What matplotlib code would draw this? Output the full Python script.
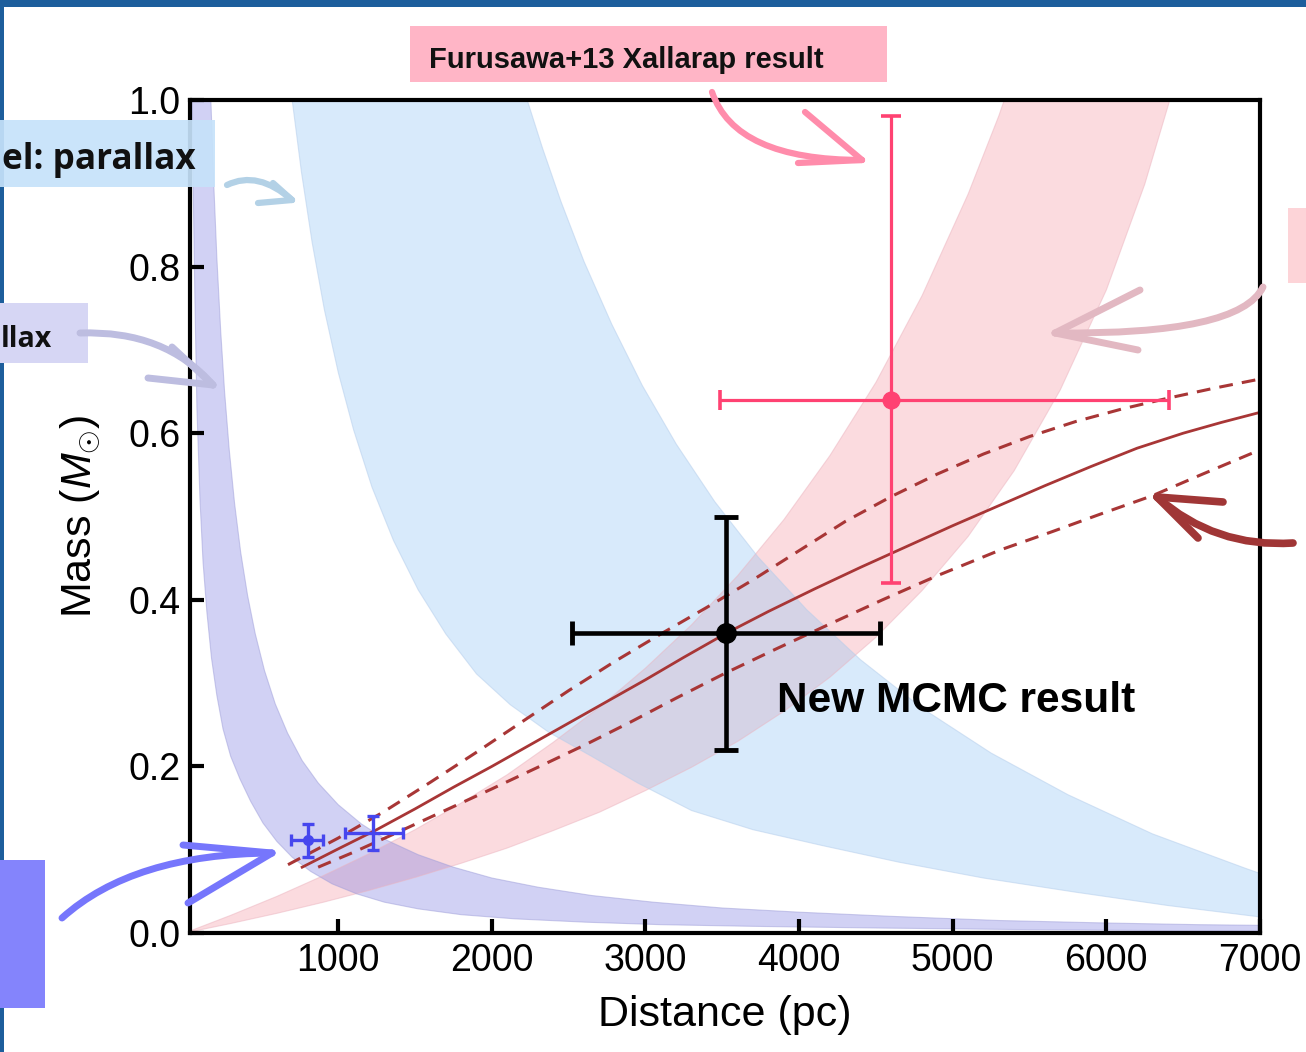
import numpy as np
import matplotlib
matplotlib.use("Agg")
import matplotlib.pyplot as plt
from matplotlib.path import Path
from matplotlib.patches import PathPatch, Rectangle

# ---------------- data (distance in pc, mass in Msun) ----------------
# lavender band (parallax, model 1)
lav_up_d = [165, 172, 190, 210, 235, 260, 290, 325, 365, 410, 460, 520, 590, 670, 765, 870, 1000, 1150,
            1320, 1520, 1750, 2000, 2300, 2650, 3050, 3500, 4000, 4600, 5300, 6000, 6600, 7100]
lav_up_m = [1.037, 0.994, 0.898, 0.810, 0.722, 0.650, 0.581, 0.516, 0.457, 0.405, 0.359, 0.315, 0.275, 0.240,
            0.207, 0.180, 0.154, 0.131, 0.111, 0.094, 0.079, 0.066, 0.055, 0.045, 0.037, 0.030, 0.025, 0.020,
            0.015, 0.012, 0.010, 0.009]
lav_lo_d = [45, 50, 57, 67, 80, 100, 120, 145, 175, 210, 250, 300, 360, 430, 510, 600, 700, 820, 960, 1120,
            1300, 1520, 1800, 2150, 2608, 3100, 3700, 4500, 5500, 7100]
lav_lo_m = [1.12, 1.00, 0.88, 0.76, 0.63, 0.52, 0.445, 0.385, 0.330, 0.285, 0.245, 0.212, 0.185, 0.158, 0.132,
            0.110, 0.091, 0.074, 0.059, 0.047, 0.037, 0.029, 0.022, 0.017, 0.013, 0.010, 0.008, 0.006, 0.004, 0.002]

# light-blue band (parallax, model 2)
blu_lo_d = [640, 700, 760, 830, 910, 1000, 1100, 1220, 1360, 1520, 1700, 1900, 2120, 2370, 2650, 2950, 3300,
            3700, 4150, 4650, 5200, 5800, 6400, 7100]
blu_lo_m = [1.103, 1.0, 0.914, 0.829, 0.748, 0.673, 0.604, 0.535, 0.471, 0.412, 0.359, 0.311, 0.274, 0.241,
            0.212, 0.180, 0.147, 0.124, 0.105, 0.085, 0.066, 0.049, 0.033, 0.017]
blu_up_d = [2150, 2230, 2330, 2450, 2600, 2780, 2980, 3200, 3450, 3730, 4050, 4400, 4800, 5250, 5750, 6300,
            6900, 7100]
blu_up_m = [1.051, 1.0, 0.942, 0.878, 0.806, 0.731, 0.657, 0.587, 0.518, 0.452, 0.388, 0.328, 0.270, 0.216,
            0.166, 0.119, 0.078, 0.065]

# pink band (theta_E)
pnk_up_d = [35, 300, 600, 900, 1200, 1500, 1800, 2100, 2400, 2700, 3000, 3300, 3600, 3900, 4200, 4500, 4800,
            5100, 5300, 5450]
pnk_up_m = [0.0024, 0.0212, 0.0439, 0.0686, 0.0952, 0.124, 0.156, 0.190, 0.229, 0.271, 0.318, 0.370, 0.429,
            0.496, 0.573, 0.661, 0.765, 0.887, 0.981, 1.061]
pnk_lo_d = [35, 300, 600, 900, 1200, 1500, 1800, 2100, 2400, 2700, 3000, 3300, 3600, 3900, 4200, 4500, 4800,
            5100, 5400, 5700, 6000, 6250, 6413, 6550]
pnk_lo_m = [0.0013, 0.0114, 0.0236, 0.0368, 0.0511, 0.0667, 0.0837, 0.102, 0.123, 0.145, 0.171, 0.199, 0.230,
            0.266, 0.307, 0.355, 0.411, 0.476, 0.555, 0.652, 0.772, 0.899, 1.0, 1.096]

# mass-distance relation (solid) and its 1-sigma range (dashed)
rel_d = [765, 1000, 1250, 1500, 1750, 2000, 2250, 2500, 2750, 3000, 3250, 3527, 3800, 4100, 4400, 4700, 5000,
         5300, 5600, 5900, 6200, 6500, 6750, 7000]
rel_m = [0.079, 0.101, 0.124, 0.149, 0.175, 0.200, 0.226, 0.252, 0.278, 0.304, 0.331, 0.360, 0.386, 0.413,
         0.439, 0.464, 0.489, 0.513, 0.537, 0.560, 0.582, 0.600, 0.613, 0.625]
relhi_d = [673, 1000, 1300, 1600, 1900, 2200, 2500, 2800, 3100, 3400, 3700, 4000, 4300, 4600, 4900, 5200, 5500,
           5800, 6100, 6400, 6700, 7000]
relhi_m = [0.082, 0.114, 0.146, 0.181, 0.217, 0.254, 0.291, 0.326, 0.359, 0.391, 0.424, 0.459, 0.494, 0.524,
           0.551, 0.575, 0.596, 0.614, 0.629, 0.642, 0.654, 0.665]
rello_d = [869, 1100, 1400, 1729, 2000, 2300, 2608, 2900, 3200, 3520, 3850, 4200, 4543, 4900, 5312, 5650, 5963,
           6300, 6615, 7000]
rello_m = [0.079, 0.097, 0.122, 0.150, 0.173, 0.199, 0.226, 0.253, 0.282, 0.312, 0.341, 0.371, 0.400, 0.429,
           0.460, 0.482, 0.503, 0.525, 0.550, 0.580]

# results
mcmc_d, mcmc_m = 3527, 0.360
mcmc_dx = [1003, 997]
mcmc_dm = [0.140, 0.139]
xal_d, xal_m = 4595, 0.640
xal_dx = [1107, 1811]
xal_dm = [0.220, 0.341]
par_d = [804, 1227]
par_m = [0.112, 0.120]
par_dx_lo = [111, 182]
par_dx_hi = [97, 196]
par_dm_lo = [0.021, 0.020]
par_dm_hi = [0.019, 0.020]

xticks = [1000, 2000, 3000, 4000, 5000, 6000, 7000]
yticks = [0.0, 0.2, 0.4, 0.6, 0.8, 1.0]

# ---------------- figure ----------------
plt.rcParams['font.family'] = ['Liberation Sans', 'DejaVu Sans']
plt.rcParams['mathtext.fontset'] = 'custom'
plt.rcParams['mathtext.rm'] = 'Liberation Sans'
plt.rcParams['mathtext.it'] = 'Liberation Sans:italic'

W, H = 1306, 1052
fig = plt.figure(figsize=(W / 100, H / 100), dpi=100)
fig.patch.set_facecolor('white')
ax = fig.add_axes([190 / W, 1 - 933 / H, (1260 - 190) / W, (933 - 100) / H])
ax.set_xlim(35, 7000)
ax.set_ylim(0, 1)


def band(ud, um, ld, lm, fc, ec, alpha):
    xs = np.r_[ud, ld[::-1]]
    ys = np.r_[um, lm[::-1]]
    ax.fill(xs, ys, facecolor=fc, alpha=alpha, edgecolor='none', zorder=1)
    ax.plot(ud, um, color=ec, lw=0.8, alpha=0.5, zorder=1.1)
    ax.plot(ld, lm, color=ec, lw=0.8, alpha=0.5, zorder=1.1)


band(pnk_up_d, pnk_up_m, pnk_lo_d, pnk_lo_m, (0.96, 0.58, 0.62), (0.92, 0.70, 0.75), 0.33)
band(blu_lo_d, blu_lo_m, blu_up_d, blu_up_m, (0.58, 0.78, 0.96), (0.70, 0.80, 0.92), 0.36)
band(lav_up_d, lav_up_m, lav_lo_d, lav_lo_m, (0.47, 0.47, 0.88), (0.62, 0.62, 0.85), 0.34)

red = '#a83636'
ax.plot(rel_d, rel_m, color=red, lw=2.0, zorder=3)
ax.plot(relhi_d, relhi_m, color=red, lw=2.2, ls=(0, (4.5, 3)), zorder=3)
ax.plot(rello_d, rello_m, color=red, lw=2.2, ls=(0, (4.5, 3)), zorder=3)

ax.errorbar(mcmc_d, mcmc_m, xerr=[[mcmc_dx[0]], [mcmc_dx[1]]], yerr=[[mcmc_dm[0]], [mcmc_dm[1]]],
            fmt='o', color='black', ms=14, elinewidth=3.3, capsize=8.5, capthick=3.5, zorder=5)
ax.errorbar(xal_d, xal_m, xerr=[[xal_dx[0]], [xal_dx[1]]], yerr=[[xal_dm[0]], [xal_dm[1]]],
            fmt='o', color='#ff4272', ms=12, elinewidth=2.3, capsize=7, capthick=2.6, zorder=5)
for i in range(len(par_d)):
    ax.errorbar(par_d[i], par_m[i], xerr=[[par_dx_lo[i]], [par_dx_hi[i]]],
                yerr=[[par_dm_lo[i]], [par_dm_hi[i]]], fmt='o', color='#4646ee',
                ms=7 if i == 0 else 0, elinewidth=2.4, capsize=4, capthick=2.4, zorder=5)

ax.text(3859, 0.265, 'New MCMC result', fontsize=30.5, fontweight='bold', ha='left',
        va='baseline', color='black', zorder=6)

ax.set_xticks(xticks)
ax.set_xticklabels([str(v) for v in xticks])
ax.set_yticks(yticks)
ax.set_yticklabels(['%.1f' % v for v in yticks])
ax.tick_params(direction='in', length=10, width=3, labelsize=27, pad=7,
               top=False, right=False)
for s in ax.spines.values():
    s.set_linewidth(3)
    s.set_zorder(7)
ax.set_xlabel('Distance (pc)', fontsize=31, labelpad=12)
ax.set_ylabel(r'Mass ($M_{\odot}$)', fontsize=31, labelpad=18)

# ---------------- overlay: slide decorations ----------------
ov = fig.add_axes([0, 0, 1, 1], zorder=20)
ov.set_xlim(0, W)
ov.set_ylim(H, 0)
ov.axis('off')
ov.patch.set_alpha(0)

ov.add_patch(Rectangle((0, 0), W, 7, facecolor='#1d5e9c', edgecolor='none'))
ov.add_patch(Rectangle((0, 0), 4, H, facecolor='#1d5e9c', edgecolor='none'))

ov.add_patch(Rectangle((410, 26), 477, 56, facecolor='#ffb5c6', edgecolor='none'))
ov.text(429, 68, 'Furusawa+13 Xallarap result', fontsize=21, fontweight='bold',
        ha='left', va='baseline', color='#111111')

ov.add_patch(Rectangle((0, 120), 215, 67, facecolor='#c6e2fa', edgecolor='none', alpha=0.92))
ov.text(2, 169, 'el: parallax', fontsize=25.3, fontweight='bold', family='Open Sans',
        ha='left', va='baseline', color='#111111')

ov.add_patch(Rectangle((0, 303), 88, 60, facecolor='#d6d6f4', edgecolor='none'))
ov.text(1, 347, 'llax', fontsize=20.5, fontweight='bold', family='Open Sans',
        ha='left', va='baseline', color='#111111')

ov.add_patch(Rectangle((1288, 208), 18, 75, facecolor='#fdd4d8', edgecolor='none'))
ov.add_patch(Rectangle((0, 860), 45, 148, facecolor='#8484fc', edgecolor='none'))


def hand_arrow(p0, c, p1, h1, h2, color, lw):
    path = Path([p0, c, p1], [Path.MOVETO, Path.CURVE3, Path.CURVE3])
    ov.add_patch(PathPatch(path, facecolor='none', edgecolor=color, lw=lw,
                           capstyle='round', joinstyle='round'))
    for h in (h1, h2):
        ov.plot([h[0], p1[0]], [h[1], p1[1]], color=color, lw=lw,
                solid_capstyle='round')


hand_arrow((227, 185), (258, 170), (292, 200), (258, 203), (273, 183), '#b3d1e6', 4.5)
hand_arrow((80, 333), (165, 330), (213, 385), (172, 347), (148, 378), '#bdbde0', 5)
hand_arrow((712, 92), (735, 160), (862, 160), (805, 112), (798, 163), '#ff8cab', 4.5)
hand_arrow((1263, 287), (1240, 335), (1055, 333), (1140, 290), (1138, 350), '#e2b8c2', 5)
hand_arrow((1293, 543), (1215, 548), (1157, 497), (1223, 502), (1198, 538), '#a03636', 5.5)
hand_arrow((62, 918), (133, 854), (272, 853), (183, 845), (188, 903), '#7676fc', 5)

fig.savefig('out.png', dpi=100)
